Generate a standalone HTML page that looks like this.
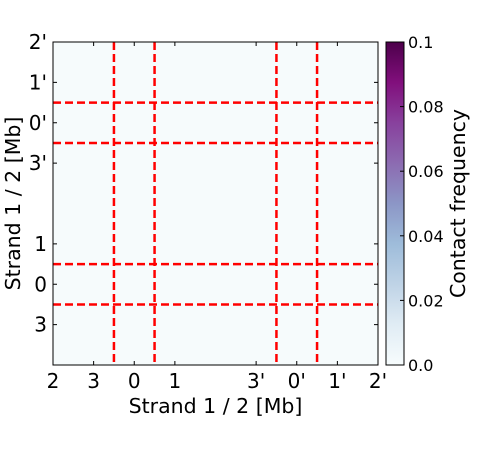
<!DOCTYPE html>
<html><head><meta charset="utf-8"><style>body{margin:0;background:#fff}svg{display:block;font-family:"DejaVu Sans","Liberation Sans",sans-serif}</style></head>
<body>
<svg id="c" width="500" height="450">
<defs><linearGradient id="bupu" x1="0" y1="1" x2="0" y2="0">
<stop offset="0" stop-color="#f7fcfd"/><stop offset="0.125" stop-color="#e0ecf4"/><stop offset="0.25" stop-color="#bfd3e6"/><stop offset="0.375" stop-color="#9ebcda"/><stop offset="0.5" stop-color="#8c96c6"/><stop offset="0.625" stop-color="#8c6bb1"/><stop offset="0.75" stop-color="#88419d"/><stop offset="0.875" stop-color="#810f7c"/><stop offset="1" stop-color="#4d004b"/></linearGradient></defs>
</svg>
<script>
const xTickPos=[0,1,2,3,5,6,7,8];
const xTickLabels=["2","3","0","1","3'","0'","1'","2'"];
const yTickPos=[0,1,2,3,5,6,7];
const yTickLabels=["2'","1'","0'","3'","1","0","3"];
const boundaries=[1.5,2.5,5.5,6.5];
const cbTicks=[0,0.02,0.04,0.06,0.08,0.1];
const cbLabels=["0.0","0.02","0.04","0.06","0.08","0.1"];
const ns="http://www.w3.org/2000/svg",svg=document.getElementById('c');
const L=53,T=42,R=378,B=365,N=8;
const sx=v=>L+v*(R-L)/N, sy=v=>T+v*(B-T)/N;
function mk(t,a,p){const e=document.createElementNS(ns,t);for(const k in a)e.setAttribute(k,a[k]);(p||svg).appendChild(e);return e;}
let r=mk('rect',{x:L,y:T,width:R-L,height:B-T,fill:'#f6fbfc'});


boundaries.forEach(b=>{
 let l=mk('line',{x1:sx(b),x2:sx(b),y1:T,y2:B,stroke:'#ff0000','stroke-width':2.5,'stroke-dasharray':'8 4'});
 
 
 let h=mk('line',{x1:L,x2:R,y1:sy(b),y2:sy(b),stroke:'#ff0000','stroke-width':2.5,'stroke-dasharray':'8 4'});
 
 
});
let f=mk('rect',{x:L,y:T,width:R-L,height:B-T,fill:'none',stroke:'#000','stroke-width':1});


xTickPos.forEach((p,i)=>{
 mk('line',{x1:sx(p),x2:sx(p),y1:B,y2:B-4,stroke:'#000'});
 mk('line',{x1:sx(p),x2:sx(p),y1:T,y2:T+4,stroke:'#000'});
 let t=mk('text',{x:sx(p),y:B+23,'text-anchor':'middle','font-size':20});t.textContent=xTickLabels[i];
 
 
});
yTickPos.forEach((p,i)=>{
 mk('line',{x1:L,x2:L+4,y1:sy(p),y2:sy(p),stroke:'#000'});
 mk('line',{x1:R,x2:R-4,y1:sy(p),y2:sy(p),stroke:'#000'});
 let t=mk('text',{x:L-6,y:sy(p)+7,'text-anchor':'end','font-size':20});t.textContent=yTickLabels[i];
 
 
});
let xt=mk('text',{x:(L+R)/2,y:413,'text-anchor':'middle','font-size':20.5});xt.textContent='Strand 1 / 2 [Mb]';


let yt=mk('text',{x:0,y:0,'text-anchor':'middle','font-size':20.5,transform:`translate(20,${(T+B)/2}) rotate(-90)`});yt.textContent='Strand 1 / 2 [Mb]';


const CL=386,CR=404;
let cb=mk('rect',{x:CL,y:T,width:CR-CL,height:B-T,fill:'url(#bupu)',stroke:'#000'});


const cy=v=>B-v/0.1*(B-T);
cbTicks.forEach((v,i)=>{
 mk('line',{x1:CR,x2:CR-4,y1:cy(v),y2:cy(v),stroke:'#000'});
 let t=mk('text',{x:CR+4,y:cy(v)+6,'font-size':16});t.textContent=cbLabels[i];
 
 
});
let ct=mk('text',{x:0,y:0,'text-anchor':'middle','font-size':20.5,transform:`translate(465,${(T+B)/2}) rotate(-90)`});ct.textContent='Contact frequency';


</script>
</body></html>
